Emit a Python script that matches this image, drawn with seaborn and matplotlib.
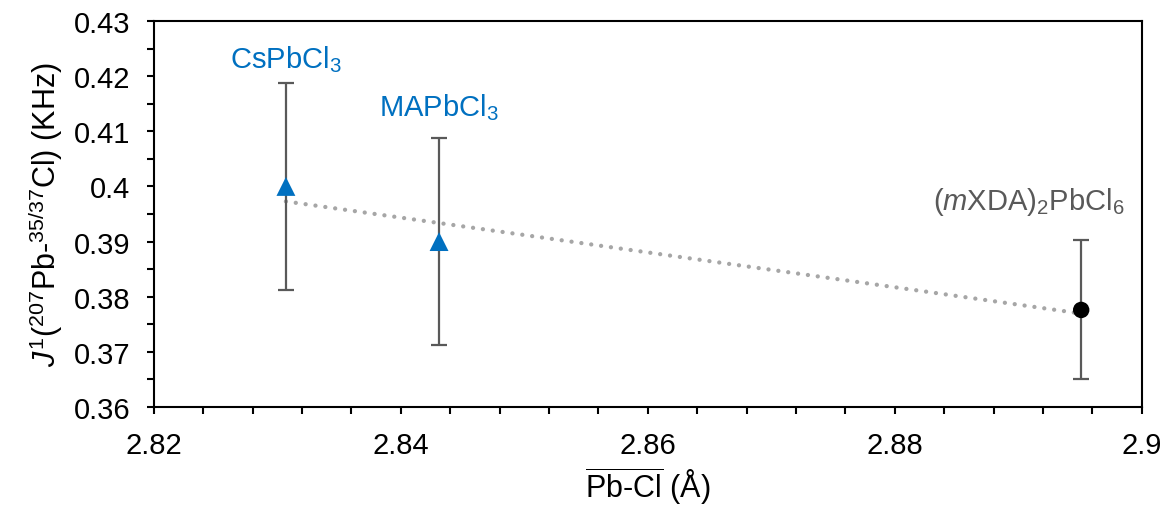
import numpy as np
import pandas as pd
import matplotlib
matplotlib.use("Agg")
import matplotlib.pyplot as plt
import seaborn as sns
from matplotlib.ticker import MultipleLocator, FuncFormatter

# Mean Pb-Cl bond length (Å) and J coupling (kHz) with uncertainties
compounds = ["CsPbCl$_3$", "MAPbCl$_3$", "($\\mathit{m}$XDA)$_2$PbCl$_6$"]
bond_length = [2.8307, 2.8431, 2.8951]
coupling = [0.400, 0.390, 0.3776]
coupling_err = [0.0188, 0.0188, 0.0126]
structure = ["3D", "3D", "0D"]

df = pd.DataFrame({"compound": compounds, "bond": bond_length,
                   "J": coupling, "err": coupling_err, "type": structure})

sns.set_theme(style="ticks")
plt.rcParams["font.family"] = ["Liberation Sans", "DejaVu Sans"]
plt.rcParams["mathtext.fontset"] = "custom"
plt.rcParams["mathtext.rm"] = "Liberation Sans"
plt.rcParams["mathtext.it"] = "Liberation Sans:italic"
plt.rcParams["mathtext.bf"] = "Liberation Sans:bold"

BLUE = "#0070C0"
GREY = "#595959"

fig, ax = plt.subplots(figsize=(11.65, 5.06), dpi=100)
fig.subplots_adjust(left=0.132, right=0.980, top=0.9565, bottom=0.1937)

# linear trend through all three compounds
sns.regplot(data=df, x="bond", y="J", scatter=False, ci=None, ax=ax,
            line_kws=dict(color="#A6A6A6", lw=3.1, linestyle=(0, (0.01, 2.3)),
                          dash_capstyle="round", zorder=1))

# error bars
ax.errorbar(df["bond"], df["J"], yerr=df["err"], fmt="none", ecolor=GREY,
            elinewidth=1.6, capsize=6, capthick=1.6, zorder=2)

# markers
sns.scatterplot(data=df, x="bond", y="J", hue="type", style="type",
                size="type", sizes={"3D": 185, "0D": 140},
                palette={"3D": BLUE, "0D": "black"},
                markers={"3D": "^", "0D": "o"},
                edgecolor="none", legend=False, ax=ax, zorder=3)

# point labels
label_kw = dict(textcoords="offset points", ha="center", va="baseline",
                fontsize=21)
ax.annotate(compounds[0], xy=(bond_length[0], coupling[0]), xytext=(0, 86),
            color=BLUE, **label_kw)
ax.annotate(compounds[1], xy=(bond_length[1], coupling[1]), xytext=(0, 91),
            color=BLUE, **label_kw)
ax.annotate(compounds[2], xy=(bond_length[2], coupling[2]), xytext=(-38, 73),
            color=GREY, **label_kw)

ax.set_xlim(2.82, 2.90)
ax.set_ylim(0.36, 0.43)
ax.xaxis.set_major_locator(MultipleLocator(0.02))
ax.xaxis.set_minor_locator(MultipleLocator(0.004))
ax.yaxis.set_major_locator(MultipleLocator(0.01))
ax.yaxis.set_minor_locator(MultipleLocator(0.005))
fmt = FuncFormatter(lambda v, p: f"{round(v, 4):g}")
ax.xaxis.set_major_formatter(fmt)
ax.yaxis.set_major_formatter(fmt)

for side in ["top", "right", "left", "bottom"]:
    ax.spines[side].set_visible(True)
    ax.spines[side].set_linewidth(1.5)
    ax.spines[side].set_color("black")
ax.tick_params(which="both", direction="out", length=5, width=1.5,
               color="black", labelsize=21, labelcolor="black")
ax.tick_params(axis="x", pad=12)
ax.tick_params(axis="y", pad=12)

ax.set_xlabel(r"$\overline{\mathrm{Pb}\text{-}\mathrm{Cl}}$ (Å)", fontsize=22,
              color="black", labelpad=4)
ax.set_ylabel(r"$\mathit{J}^{1}$($^{207}$Pb-$^{35/37}$Cl) (KHz)", fontsize=22,
              color="black", labelpad=6)

fig.savefig("out.png", dpi=100, facecolor="white")
